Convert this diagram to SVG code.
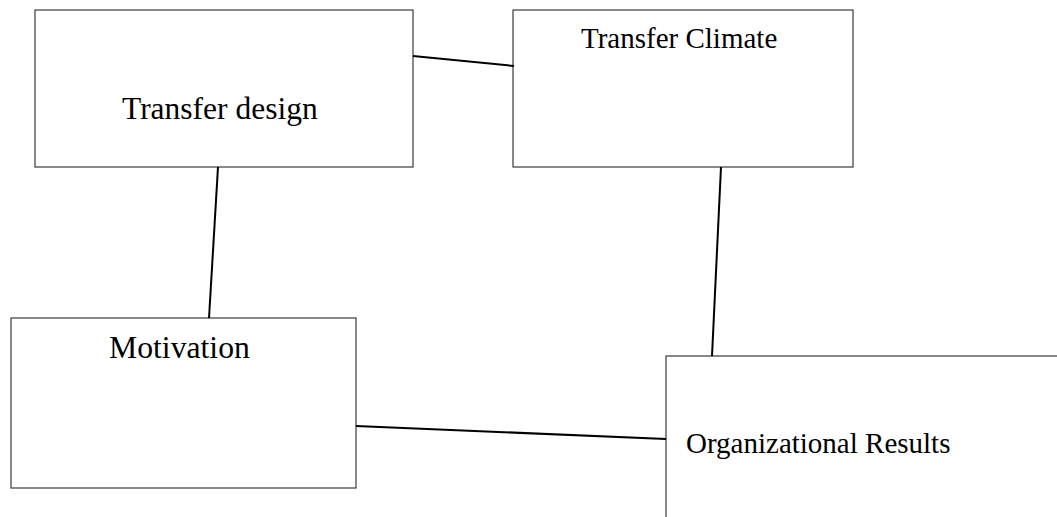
<svg xmlns="http://www.w3.org/2000/svg" width="1057" height="517" viewBox="0 0 1057 517">
<style>
.box{fill:#fff;stroke:#3a3a3a;stroke-width:1.2}
.lbl{font-family:"Liberation Serif","Times New Roman",serif;fill:#000}
.con{stroke:#000;stroke-width:2;fill:none}
</style>
<rect width="1057" height="517" fill="#fff"/>
<g id="node-transfer-design">
<rect class="box" x="35" y="10" width="378" height="157"/>
<text class="lbl" x="122" y="119" font-size="31.5">Transfer design</text>
</g>
<g id="node-transfer-climate">
<rect class="box" x="513" y="10" width="340" height="157"/>
<text class="lbl" x="581" y="48" font-size="29">Transfer Climate</text>
</g>
<g id="node-motivation">
<rect class="box" x="11" y="318" width="345" height="170"/>
<text class="lbl" x="109" y="358" font-size="31.7">Motivation</text>
</g>
<g id="node-organizational-results">
<rect class="box" x="666" y="356" width="420" height="200"/>
<text class="lbl" x="686" y="453" font-size="29">Organizational Results</text>
</g>
<g id="connectors">
<line class="con" x1="413" y1="56" x2="514" y2="66"/>
<line class="con" x1="218" y1="167" x2="209" y2="318"/>
<line class="con" x1="721" y1="167" x2="712" y2="356"/>
<line class="con" x1="356" y1="426" x2="666" y2="439"/>
</g>
</svg>
